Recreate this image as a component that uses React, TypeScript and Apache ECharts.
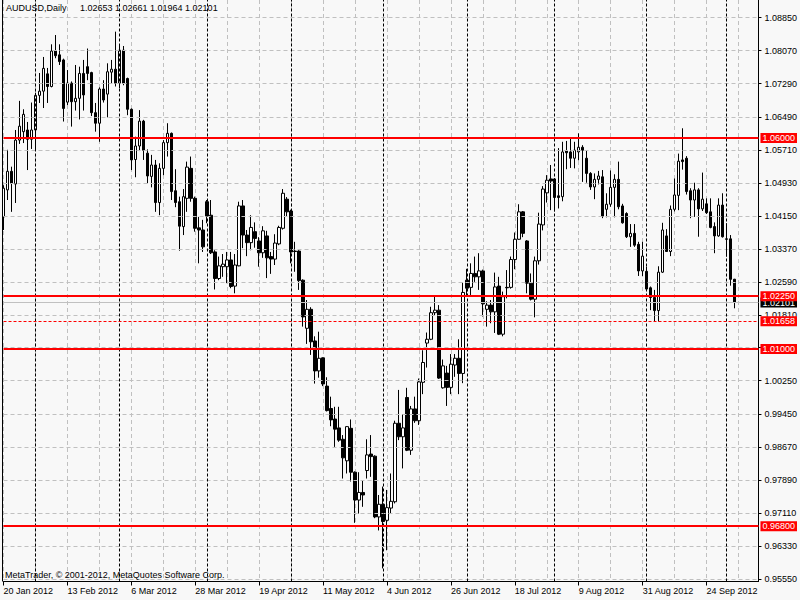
import React, { useEffect, useRef } from "react";
import * as echarts from "echarts";

// [open, high, low, close] per daily bar
const ohlc: number[][] = [
  [1.0413, 1.0488, 1.0382, 1.0481], [1.0477, 1.0572, 1.0453, 1.0521], [1.0521, 1.0532, 1.0425, 1.0493], [1.0491, 1.0619, 1.0446, 1.0595],
  [1.0595, 1.0688, 1.0586, 1.0628], [1.0615, 1.0668, 1.0588, 1.0656], [1.0619, 1.0638, 1.0524, 1.0597], [1.0597, 1.0684, 1.0574, 1.0619],
  [1.0619, 1.0707, 1.0571, 1.0701], [1.0701, 1.0754, 1.0683, 1.0711], [1.0711, 1.0792, 1.0671, 1.0765], [1.0752, 1.0766, 1.0683, 1.0722],
  [1.0722, 1.0822, 1.0720, 1.0806], [1.0806, 1.0844, 1.0789, 1.0795], [1.0797, 1.0822, 1.0773, 1.0781], [1.0785, 1.0788, 1.0639, 1.0670],
  [1.0685, 1.0761, 1.0678, 1.0730], [1.0730, 1.0734, 1.0627, 1.0686], [1.0686, 1.0773, 1.0665, 1.0694], [1.0694, 1.0769, 1.0644, 1.0753],
  [1.0753, 1.0785, 1.0665, 1.0702], [1.0769, 1.0812, 1.0737, 1.0753], [1.0755, 1.0757, 1.0652, 1.0660], [1.0660, 1.0683, 1.0615, 1.0635],
  [1.0635, 1.0720, 1.0591, 1.0716], [1.0716, 1.0737, 1.0684, 1.0690], [1.0704, 1.0777, 1.0649, 1.0757], [1.0756, 1.0785, 1.0730, 1.0763],
  [1.0763, 1.0852, 1.0722, 1.0730], [1.0730, 1.0820, 1.0718, 1.0808], [1.0808, 1.0818, 1.0725, 1.0730], [1.0741, 1.0743, 1.0654, 1.0668],
  [1.0668, 1.0670, 1.0524, 1.0548], [1.0549, 1.0603, 1.0507, 1.0581], [1.0581, 1.0666, 1.0569, 1.0640], [1.0640, 1.0643, 1.0548, 1.0571],
  [1.0564, 1.0573, 1.0493, 1.0510], [1.0509, 1.0560, 1.0483, 1.0536], [1.0536, 1.0548, 1.0425, 1.0447], [1.0447, 1.0540, 1.0417, 1.0528],
  [1.0528, 1.0595, 1.0512, 1.0589], [1.0589, 1.0635, 1.0556, 1.0611], [1.0611, 1.0613, 1.0453, 1.0473], [1.0475, 1.0526, 1.0436, 1.0447],
  [1.0449, 1.0461, 1.0333, 1.0391], [1.0390, 1.0479, 1.0370, 1.0461], [1.0457, 1.0544, 1.0425, 1.0531], [1.0528, 1.0556, 1.0449, 1.0457],
  [1.0457, 1.0461, 1.0378, 1.0386], [1.0387, 1.0413, 1.0303, 1.0382], [1.0382, 1.0406, 1.0330, 1.0342], [1.0449, 1.0453, 1.0398, 1.0415],
  [1.0417, 1.0453, 1.0325, 1.0328], [1.0330, 1.0334, 1.0241, 1.0267], [1.0267, 1.0319, 1.0263, 1.0297], [1.0295, 1.0325, 1.0271, 1.0301],
  [1.0295, 1.0330, 1.0256, 1.0311], [1.0311, 1.0330, 1.0244, 1.0248], [1.0249, 1.0325, 1.0232, 1.0299], [1.0297, 1.0449, 1.0296, 1.0439],
  [1.0439, 1.0453, 1.0339, 1.0370], [1.0370, 1.0382, 1.0320, 1.0352], [1.0352, 1.0417, 1.0334, 1.0388], [1.0378, 1.0400, 1.0340, 1.0362],
  [1.0356, 1.0365, 1.0295, 1.0328], [1.0328, 1.0391, 1.0316, 1.0380], [1.0368, 1.0380, 1.0268, 1.0316], [1.0319, 1.0330, 1.0278, 1.0313],
  [1.0313, 1.0372, 1.0299, 1.0351], [1.0349, 1.0392, 1.0346, 1.0388], [1.0386, 1.0479, 1.0383, 1.0469], [1.0455, 1.0460, 1.0413, 1.0425],
  [1.0427, 1.0430, 1.0303, 1.0330], [1.0332, 1.0354, 1.0283, 1.0331], [1.0332, 1.0334, 1.0240, 1.0262], [1.0263, 1.0265, 1.0153, 1.0176],
  [1.0149, 1.0216, 1.0112, 1.0194], [1.0194, 1.0199, 1.0086, 1.0117], [1.0119, 1.0130, 1.0018, 1.0048], [1.0048, 1.0141, 1.0032, 1.0078],
  [1.0079, 1.0080, 1.0012, 1.0017], [1.0012, 1.0033, 0.9952, 0.9954], [0.9959, 0.9987, 0.9917, 0.9932], [0.9934, 0.9963, 0.9868, 0.9910],
  [0.9913, 0.9963, 0.9880, 0.9884], [0.9886, 0.9896, 0.9793, 0.9842], [0.9835, 0.9917, 0.9805, 0.9916], [0.9912, 0.9933, 0.9786, 0.9808],
  [0.9808, 0.9810, 0.9688, 0.9742], [0.9742, 0.9808, 0.9710, 0.9760], [0.9760, 0.9789, 0.9726, 0.9754], [0.9812, 0.9886, 0.9793, 0.9849],
  [0.9851, 0.9896, 0.9797, 0.9845], [0.9846, 0.9848, 0.9699, 0.9702], [0.9702, 0.9754, 0.9670, 0.9732], [0.9732, 0.9774, 0.9580, 0.9691],
  [0.9694, 0.9766, 0.9623, 0.9724], [0.9723, 0.9805, 0.9710, 0.9739], [0.9738, 0.9930, 0.9734, 0.9924], [0.9924, 1.0003, 0.9884, 0.9892],
  [0.9892, 0.9945, 0.9817, 0.9913], [0.9985, 1.0008, 0.9858, 0.9860], [0.9860, 0.9965, 0.9849, 0.9958], [0.9958, 0.9987, 0.9925, 0.9930],
  [0.9930, 1.0030, 0.9920, 1.0022], [1.0021, 1.0097, 0.9993, 1.0068], [1.0114, 1.0139, 1.0056, 1.0123], [1.0123, 1.0200, 1.0121, 1.0186],
  [1.0186, 1.0224, 1.0180, 1.0192], [1.0192, 1.0204, 1.0029, 1.0031], [1.0008, 1.0075, 1.0006, 1.0060], [1.0043, 1.0060, 0.9965, 1.0009],
  [1.0009, 1.0088, 0.9993, 1.0064], [1.0062, 1.0088, 1.0034, 1.0078], [1.0078, 1.0123, 0.9993, 1.0042], [1.0042, 1.0257, 1.0019, 1.0234],
  [1.0263, 1.0290, 1.0228, 1.0244], [1.0246, 1.0303, 1.0228, 1.0279], [1.0279, 1.0319, 1.0259, 1.0271], [1.0271, 1.0327, 1.0240, 1.0285],
  [1.0285, 1.0288, 1.0177, 1.0207], [1.0194, 1.0213, 1.0153, 1.0204], [1.0204, 1.0216, 1.0161, 1.0188], [1.0188, 1.0281, 1.0138, 1.0247],
  [1.0249, 1.0271, 1.0133, 1.0135], [1.0135, 1.0236, 1.0130, 1.0224], [1.0246, 1.0287, 1.0220, 1.0245], [1.0246, 1.0319, 1.0243, 1.0312],
  [1.0312, 1.0376, 1.0289, 1.0360], [1.0360, 1.0443, 1.0359, 1.0425], [1.0425, 1.0427, 1.0365, 1.0374], [1.0356, 1.0358, 1.0232, 1.0256],
  [1.0256, 1.0279, 1.0215, 1.0218], [1.0218, 1.0319, 1.0175, 1.0309], [1.0309, 1.0423, 1.0300, 1.0396], [1.0394, 1.0486, 1.0381, 1.0479],
  [1.0470, 1.0512, 1.0447, 1.0500], [1.0503, 1.0536, 1.0429, 1.0498], [1.0503, 1.0505, 1.0426, 1.0459], [1.0463, 1.0576, 1.0433, 1.0459],
  [1.0461, 1.0591, 1.0450, 1.0567], [1.0569, 1.0593, 1.0526, 1.0565], [1.0567, 1.0599, 1.0529, 1.0552], [1.0552, 1.0591, 1.0528, 1.0571],
  [1.0567, 1.0611, 1.0547, 1.0578], [1.0578, 1.0583, 1.0496, 1.0571], [1.0552, 1.0571, 1.0494, 1.0516], [1.0516, 1.0519, 1.0477, 1.0484],
  [1.0484, 1.0516, 1.0455, 1.0502], [1.0502, 1.0522, 1.0490, 1.0510], [1.0508, 1.0524, 1.0410, 1.0415], [1.0431, 1.0469, 1.0412, 1.0443],
  [1.0443, 1.0523, 1.0437, 1.0483], [1.0483, 1.0514, 1.0412, 1.0502], [1.0502, 1.0544, 1.0431, 1.0437], [1.0439, 1.0444, 1.0397, 1.0399],
  [1.0421, 1.0424, 1.0363, 1.0366], [1.0366, 1.0396, 1.0342, 1.0374], [1.0374, 1.0396, 1.0342, 1.0346], [1.0348, 1.0354, 1.0273, 1.0285],
  [1.0285, 1.0354, 1.0273, 1.0320], [1.0284, 1.0295, 1.0240, 1.0242], [1.0245, 1.0248, 1.0192, 1.0222], [1.0222, 1.0240, 1.0165, 1.0191],
  [1.0191, 1.0296, 1.0165, 1.0282], [1.0282, 1.0399, 1.0280, 1.0382], [1.0368, 1.0384, 1.0330, 1.0331], [1.0331, 1.0440, 1.0320, 1.0431],
  [1.0431, 1.0504, 1.0426, 1.0465], [1.0464, 1.0563, 1.0429, 1.0545], [1.0548, 1.0623, 1.0525, 1.0544], [1.0552, 1.0557, 1.0466, 1.0473],
  [1.0475, 1.0481, 1.0410, 1.0453], [1.0453, 1.0494, 1.0413, 1.0477], [1.0477, 1.0481, 1.0366, 1.0432], [1.0432, 1.0518, 1.0427, 1.0455],
  [1.0444, 1.0457, 1.0420, 1.0423], [1.0425, 1.0457, 1.0386, 1.0388], [1.0390, 1.0400, 1.0327, 1.0368], [1.0368, 1.0457, 1.0366, 1.0441],
  [1.0441, 1.0469, 1.0364, 1.0366], [1.0361, 1.0398, 1.0319, 1.0360], [1.0361, 1.0370, 1.0250, 1.0265], [1.02653, 1.02661, 1.01964, 1.02101],
];

const firstDate = "2012-01-20";
const padSlots = 6;
const priceTicks = [1.0885, 1.0807, 1.0729, 1.0649, 1.0571, 1.0493, 1.0415, 1.0337, 1.0259, 1.0181, 1.0103, 1.0025, 0.9945, 0.9867, 0.9789, 0.9711, 0.9633, 0.9555];
// the 1.01030 label sits under the 1.01000 level box in the reference
const coveredTickLabels = [1.0103];
const levelLines = [1.06, 1.0225, 1.01, 0.968];
const stopLevel = 1.01658;
const bidPrice = 1.02101;
const monthStarts = ["2012-02-01", "2012-03-01", "2012-04-02", "2012-05-01", "2012-06-01", "2012-07-02", "2012-08-01", "2012-09-03", "2012-10-01"];
const monthNames = ["Jan", "Feb", "Mar", "Apr", "May", "Jun", "Jul", "Aug", "Sep", "Oct", "Nov", "Dec"];
const titleSymbol = "AUDUSD,Daily";
const titleQuote = "1.02653 1.02661 1.01964 1.02101";
const copyright = "MetaTrader, \u00a9 2001-2012, MetaQuotes Software Corp.";

const FONT = "Liberation Sans";

function tradingDays(start: string, count: number): string[] {
  const out: string[] = [];
  const [y, m, d] = start.split("-").map(Number);
  let t = Date.UTC(y, m - 1, d);
  while (out.length < count) {
    const dt = new Date(t);
    const wd = dt.getUTCDay();
    if (wd !== 0 && wd !== 6) out.push(dt.toISOString().slice(0, 10));
    t += 86400000;
  }
  return out;
}

function fmtDate(s: string): string {
  if (!/^\d{4}-\d{2}-\d{2}$/.test(s)) return "";
  const [y, m, d] = s.split("-").map(Number);
  return `${d} ${monthNames[m - 1]} ${y}`;
}

export default function App() {
  const ref = useRef<HTMLDivElement>(null);
  useEffect(() => {
    document.body.style.margin = "0";
    const el = ref.current!;
    const chart = echarts.init(el, undefined, { renderer: "svg" });
    const dates = tradingDays(firstDate, ohlc.length);
    const cats = dates.concat(Array.from({ length: padSlots }, (_, i) => `pad${i}`));
    const labelTicks = priceTicks.filter((v) => !coveredTickLabels.includes(v));

    const boxLabel = (v: number, bg: string) => ({
      show: true,
      position: "end",
      formatter: v.toFixed(5),
      backgroundColor: bg,
      color: "#ffffff",
      fontSize: 9,
      fontFamily: FONT,
      padding: [1, 2, 0, 2],
      distance: 2,
    });

    chart.setOption({
      animation: false,
      backgroundColor: "#f8f8f8",
      textStyle: { fontFamily: FONT },
      grid: { left: 3.5, right: 39.5, top: 0, height: 581.5 },
      xAxis: {
        type: "category",
        data: cats,
        boundaryGap: false,
        axisLine: { lineStyle: { color: "#000000", width: 1 } },
        axisTick: { interval: 15, length: 4, lineStyle: { color: "#000000" } },
        axisLabel: {
          interval: 15,
          align: "left",
          margin: 5,
          color: "#000000",
          fontSize: 9,
          fontFamily: FONT,
          formatter: (v: string) => fmtDate(v),
        },
        splitLine: { show: true, interval: 7, lineStyle: { color: "#c0c0c0", type: [4, 3], width: 1 } },
      },
      yAxis: {
        type: "value",
        position: "right",
        min: 0.9549,
        max: 1.0927,
        axisLine: { show: true, lineStyle: { color: "#000000", width: 1 } },
        axisTick: { show: true, customValues: priceTicks, length: 3, lineStyle: { color: "#000000" } },
        axisLabel: {
          customValues: labelTicks,
          formatter: (v: number) => v.toFixed(5),
          color: "#000000",
          fontSize: 9,
          fontFamily: FONT,
          margin: 6,
        },
        splitLine: { show: false },
      },
      series: [
        {
          type: "line",
          name: "grid",
          data: [],
          z: 1,
          silent: true,
          markLine: {
            silent: true,
            precision: 6,
            symbol: ["none", "none"],
            label: { show: false },
            data: [
              ...priceTicks.map((v) => ({ yAxis: v, lineStyle: { color: "#c0c0c0", type: [4, 3], width: 1 } })),
              ...monthStarts.map((d) => ({ xAxis: d, lineStyle: { color: "#000000", type: [3, 2], width: 1 } })),
            ],
          },
        },
        {
          type: "candlestick",
          name: "AUDUSD",
          z: 3,
          clip: false,
          barWidth: 3,
          data: ohlc.map(([o, h, l, c]) => [o, c, l, h]),
          itemStyle: {
            color: "#ffffff",
            color0: "#000000",
            borderColor: "#000000",
            borderColor0: "#000000",
            borderWidth: 1,
          },
        },
        {
          type: "line",
          name: "levels",
          data: [],
          z: 5,
          silent: true,
          markLine: {
            silent: true,
            precision: 6,
            symbol: ["none", "none"],
            data: [
              { yAxis: bidPrice, lineStyle: { color: "#c0c0c0", type: "solid", width: 1 }, label: boxLabel(bidPrice, "#000000") },
              { yAxis: stopLevel, lineStyle: { color: "#ff0000", type: [3, 2], width: 1 }, label: boxLabel(stopLevel, "#ff0000") },
              ...levelLines.map((v) => ({
                yAxis: v,
                lineStyle: { color: "#ff0000", type: "solid", width: 2 },
                label: boxLabel(v, "#ff0000"),
              })),
            ],
          },
        },
      ],
      graphic: [
        { type: "line", shape: { x1: 2.5, y1: 0, x2: 2.5, y2: 581.5 }, style: { stroke: "#000000", lineWidth: 1 }, z: 10 },
        { type: "text", left: 6, top: 3, z: 10, style: { text: titleSymbol, fontSize: 9, fontFamily: FONT, fill: "#000000" } },
        { type: "text", left: 80, top: 3, z: 10, style: { text: titleQuote, fontSize: 9, fontFamily: FONT, fill: "#000000" } },
        { type: "text", left: 5, top: 570, z: 10, style: { text: copyright, fontSize: 9, fontFamily: FONT, fill: "#000000" } },
      ],
    });
    return () => chart.dispose();
  }, []);
  return <div ref={ref} style={{ position: "absolute", left: 0, top: 0, width: 800, height: 600 }} />;
}
